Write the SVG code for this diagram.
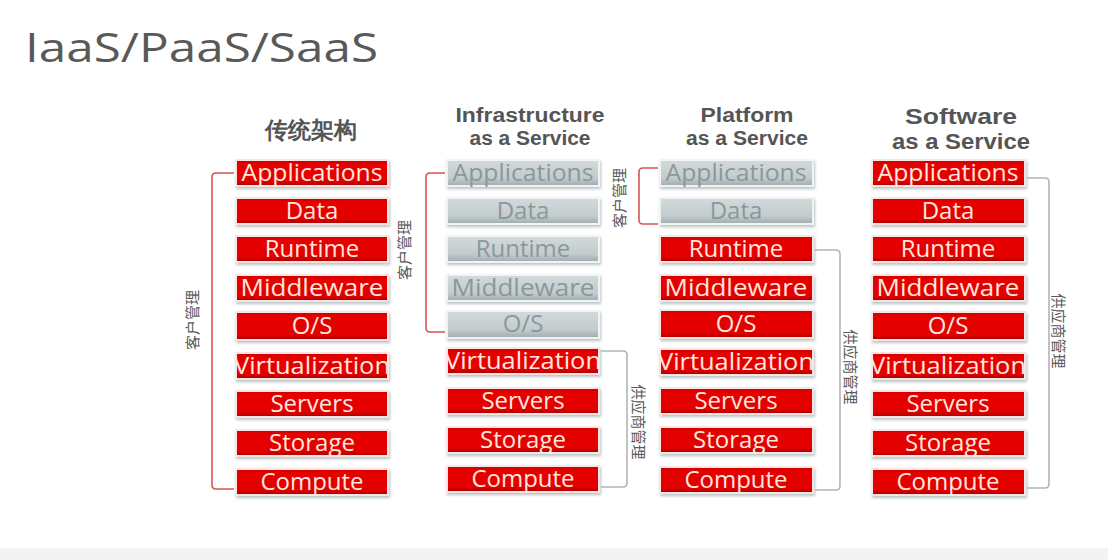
<svg xmlns="http://www.w3.org/2000/svg" width="1108" height="560" viewBox="0 0 1108 560">
<defs>
<linearGradient id="gRed" x1="0" y1="0" x2="0" y2="1">
<stop offset="0" stop-color="#c80000"/><stop offset="0.15" stop-color="#e60000"/><stop offset="0.8" stop-color="#e40000"/><stop offset="1" stop-color="#a80000"/>
</linearGradient>
<linearGradient id="gGray" x1="0" y1="0" x2="0" y2="1">
<stop offset="0" stop-color="#d3dadb"/><stop offset="0.7" stop-color="#c2cbcd"/><stop offset="1" stop-color="#9eabad"/>
</linearGradient>
<filter id="sh" x="-10%" y="-30%" width="120%" height="170%">
<feDropShadow dx="1" dy="2" stdDeviation="1.5" flood-color="#8a9a9c" flood-opacity="0.6"/>
</filter>
</defs>
<style>
.r rect{fill:url(#gRed);stroke:#fbe4e4;stroke-width:2;filter:url(#sh)}
.g rect{fill:url(#gGray);stroke:#f2f4f4;stroke-width:2;filter:url(#sh)}
.r text,.g text{font-family:"Open Sans","Noto Sans",sans-serif;font-size:24px;text-anchor:middle}
.r text{fill:#ffe6df}
.g text{fill:#8b989a}
.hd{font-family:"Liberation Sans",Arial,sans-serif;font-weight:bold;fill:#555;text-anchor:middle}
.cn{font-family:"Noto Sans CJK SC",sans-serif;fill:#5a5a5a;font-size:15px;text-anchor:middle}
.br{fill:none;stroke:#d9534f;stroke-width:1.6}
.bg{fill:none;stroke:#b4b4b4;stroke-width:1.6}
</style>
<rect x="0" y="0" width="1108" height="560" fill="#ffffff"/>
<rect x="0" y="548" width="1108" height="12" fill="#f3f3f3"/>
<text x="25" y="62" font-family="'Open Sans','Noto Sans',sans-serif" font-size="40" fill="#595959" textLength="353" lengthAdjust="spacingAndGlyphs">IaaS/PaaS/SaaS</text>

<g id="headers">
<text class="hd" x="311" y="138" font-size="23" font-family="'Noto Sans CJK SC',sans-serif">传统架构</text>
<text class="hd" x="530" y="122" font-size="20" textLength="149" lengthAdjust="spacingAndGlyphs">Infrastructure</text>
<text class="hd" x="530" y="145" font-size="20" textLength="121" lengthAdjust="spacingAndGlyphs">as a Service</text>
<text class="hd" x="747" y="122" font-size="20" textLength="93" lengthAdjust="spacingAndGlyphs">Platform</text>
<text class="hd" x="747" y="145" font-size="20" textLength="122" lengthAdjust="spacingAndGlyphs">as a Service</text>
<text class="hd" x="961" y="124" font-size="22" textLength="112" lengthAdjust="spacingAndGlyphs">Software</text>
<text class="hd" x="961" y="149" font-size="22" textLength="138" lengthAdjust="spacingAndGlyphs">as a Service</text>
</g>

<!-- Traditional -->
<g id="t-app" class="r"><rect x="236" y="160" width="152" height="26"/><text x="312" y="181" textLength="141" lengthAdjust="spacingAndGlyphs">Applications</text></g>
<g id="t-data" class="r"><rect x="236" y="198" width="152" height="26"/><text x="312" y="219">Data</text></g>
<g id="t-run" class="r"><rect x="236" y="236" width="152" height="26"/><text x="312" y="257">Runtime</text></g>
<g id="t-mid" class="r"><rect x="236" y="275" width="152" height="26"/><text x="312" y="296" textLength="143" lengthAdjust="spacingAndGlyphs">Middleware</text></g>
<g id="t-os" class="r"><rect x="236" y="312" width="152" height="28"/><text x="312" y="334">O/S</text></g>
<g id="t-virt" class="r"><rect x="236" y="353" width="152" height="26"/><text x="312" y="374" textLength="156" lengthAdjust="spacingAndGlyphs">Virtualization</text></g>
<g id="t-srv" class="r"><rect x="236" y="391" width="152" height="26"/><text x="312" y="412">Servers</text></g>
<g id="t-sto" class="r"><rect x="236" y="430" width="152" height="26"/><text x="312" y="451">Storage</text></g>
<g id="t-cmp" class="r"><rect x="236" y="469" width="152" height="26"/><text x="312" y="490">Compute</text></g>

<!-- IaaS -->
<g id="i-app" class="g"><rect x="447" y="160" width="152" height="26"/><text x="523" y="181" textLength="141" lengthAdjust="spacingAndGlyphs">Applications</text></g>
<g id="i-data" class="g"><rect x="447" y="198" width="152" height="26"/><text x="523" y="219">Data</text></g>
<g id="i-run" class="g"><rect x="447" y="236" width="152" height="26"/><text x="523" y="257">Runtime</text></g>
<g id="i-mid" class="g"><rect x="447" y="275" width="152" height="26"/><text x="523" y="296" textLength="143" lengthAdjust="spacingAndGlyphs">Middleware</text></g>
<g id="i-os" class="g"><rect x="447" y="311" width="152" height="27"/><text x="523" y="332">O/S</text></g>
<g id="i-virt" class="r"><rect x="447" y="348" width="152" height="26"/><text x="523" y="369" textLength="156" lengthAdjust="spacingAndGlyphs">Virtualization</text></g>
<g id="i-srv" class="r"><rect x="447" y="388" width="152" height="26"/><text x="523" y="409">Servers</text></g>
<g id="i-sto" class="r"><rect x="447" y="427" width="152" height="26"/><text x="523" y="448">Storage</text></g>
<g id="i-cmp" class="r"><rect x="447" y="466" width="152" height="26"/><text x="523" y="487">Compute</text></g>

<!-- PaaS -->
<g id="p-app" class="g"><rect x="660" y="160" width="153" height="26"/><text x="736" y="181" textLength="141" lengthAdjust="spacingAndGlyphs">Applications</text></g>
<g id="p-data" class="g"><rect x="660" y="198" width="153" height="26"/><text x="736" y="219">Data</text></g>
<g id="p-run" class="r"><rect x="660" y="236" width="153" height="26"/><text x="736" y="257">Runtime</text></g>
<g id="p-mid" class="r"><rect x="660" y="275" width="153" height="26"/><text x="736" y="296" textLength="143" lengthAdjust="spacingAndGlyphs">Middleware</text></g>
<g id="p-os" class="r"><rect x="660" y="310" width="153" height="28"/><text x="736" y="332">O/S</text></g>
<g id="p-virt" class="r"><rect x="660" y="349" width="153" height="26"/><text x="736" y="370" textLength="156" lengthAdjust="spacingAndGlyphs">Virtualization</text></g>
<g id="p-srv" class="r"><rect x="660" y="388" width="153" height="26"/><text x="736" y="409">Servers</text></g>
<g id="p-sto" class="r"><rect x="660" y="427" width="153" height="26"/><text x="736" y="448">Storage</text></g>
<g id="p-cmp" class="r"><rect x="660" y="467" width="153" height="26"/><text x="736" y="488">Compute</text></g>

<!-- SaaS -->
<g id="s-app" class="r"><rect x="872" y="160" width="153" height="26"/><text x="948" y="181" textLength="141" lengthAdjust="spacingAndGlyphs">Applications</text></g>
<g id="s-data" class="r"><rect x="872" y="198" width="153" height="26"/><text x="948" y="219">Data</text></g>
<g id="s-run" class="r"><rect x="872" y="236" width="153" height="26"/><text x="948" y="257">Runtime</text></g>
<g id="s-mid" class="r"><rect x="872" y="275" width="153" height="26"/><text x="948" y="296" textLength="143" lengthAdjust="spacingAndGlyphs">Middleware</text></g>
<g id="s-os" class="r"><rect x="872" y="312" width="153" height="28"/><text x="948" y="334">O/S</text></g>
<g id="s-virt" class="r"><rect x="872" y="353" width="153" height="26"/><text x="948" y="374" textLength="156" lengthAdjust="spacingAndGlyphs">Virtualization</text></g>
<g id="s-srv" class="r"><rect x="872" y="391" width="153" height="26"/><text x="948" y="412">Servers</text></g>
<g id="s-sto" class="r"><rect x="872" y="430" width="153" height="26"/><text x="948" y="451">Storage</text></g>
<g id="s-cmp" class="r"><rect x="872" y="469" width="153" height="26"/><text x="948" y="490">Compute</text></g>

<g id="connectors">
<path class="br" d="M234 173 H216 Q212 173 212 177 V485 Q212 489 216 489 H234"/>
<path class="br" d="M445 173 H430 Q426 173 426 177 V328 Q426 332 430 332 H445"/>
<path class="br" d="M658 168 H643 Q639 168 639 172 V220 Q639 224 643 224 H658"/>
<path class="bg" d="M601 351 H623 Q627 351 627 355 V483 Q627 487 623 487 H601"/>
<path class="bg" d="M815 250 H836 Q840 250 840 254 V486 Q840 490 836 490 H815"/>
<path class="bg" d="M1027 178 H1045 Q1049 178 1049 182 V484 Q1049 488 1045 488 H1027"/>
</g>

<g id="labels">
<text class="cn" transform="translate(193 320) rotate(-90)" y="5">客户管理</text>
<text class="cn" transform="translate(405 250) rotate(-90)" y="5">客户管理</text>
<text class="cn" transform="translate(620 198) rotate(-90)" y="5">客户管理</text>
<text class="cn" transform="translate(638 422) rotate(90)" y="5">供应商管理</text>
<text class="cn" transform="translate(850 367) rotate(90)" y="5">供应商管理</text>
<text class="cn" transform="translate(1058 331) rotate(90)" y="5">供应商管理</text>
</g>
</svg>
